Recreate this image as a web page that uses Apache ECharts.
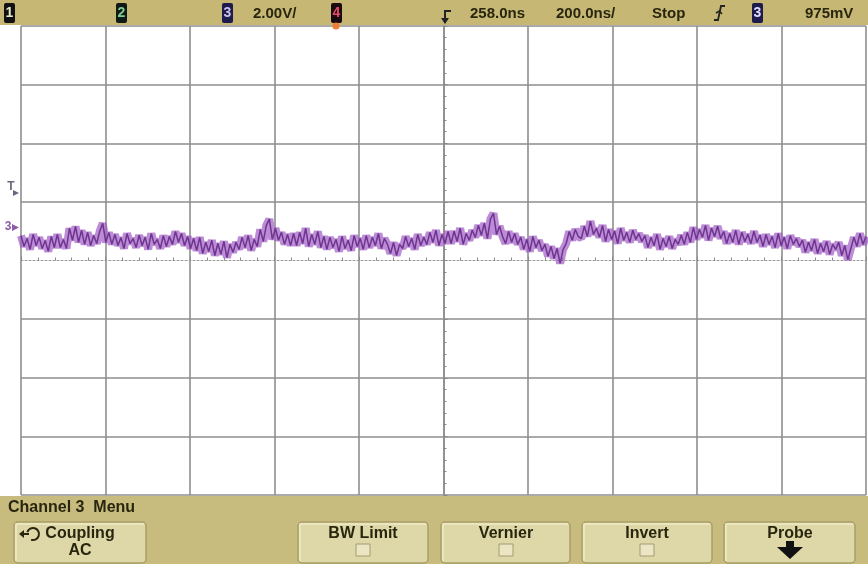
<!DOCTYPE html>
<html>
<head>
<meta charset="utf-8">
<script src="https://cdn.jsdelivr.net/npm/echarts@6/dist/echarts.min.js"></script>
<style>
html,body{margin:0;padding:0;background:#fff;}
#c{width:868px;height:564px;}
</style>
</head>
<body>
<div id="c"></div>
<script>
// Oscilloscope settings
var voltsPerDiv = 2.00;      // V/div
var timePerDiv = 200;        // ns/div
var xRange = [-1000, 1000];  // ns relative to screen centre (10 div)
var yRange = [-8, 8];        // V relative to screen centre (8 div)

// Channel 3 trace, volts relative to screen centre, read left to right
var ch3Volts = [
0.85,0.48,0.75,0.38,0.89,0.51,
0.79,0.41,0.68,0.31,0.82,0.44,0.89,
0.44,0.72,0.41,
1.10,0.69,1.16,0.62,1.03,
0.55,0.96,0.51,0.85,0.58,
1.00,1.27,0.62,0.96,0.55,
0.89,0.51,0.78,0.41,0.92,0.58,0.75,
0.44,0.86,0.51,0.79,0.38,0.92,0.55,0.72,0.41,0.85,0.48,0.82,
0.55,0.99,0.62,0.92,0.51,
0.82,0.41,0.75,0.34,0.79,
0.24,0.62,0.31,0.69,0.17,0.58,0.21,0.65,0.10,0.55,0.28,0.62,
0.38,0.79,0.44,0.85,0.34,0.72,0.48,
1.06,0.65,1.20,1.41,0.72,1.10,0.69,
0.96,0.55,0.89,0.51,0.92,
0.51,0.96,0.58,1.10,0.48,0.89,0.55,0.99,0.44,0.82,
0.38,0.79,0.44,0.72,0.31,0.82,0.41,0.69,0.34,0.85,0.48,0.75,0.38,
0.85,0.44,0.79,0.51,0.92,0.41,0.75,0.55,
0.24,0.62,0.17,0.55,
0.41,0.82,0.48,0.75,0.38,0.89,0.51,0.79,
0.55,0.96,0.62,1.03,0.51,0.89,0.58,0.99,
0.58,1.00,0.65,1.10,0.55,0.92,0.69,1.03,
0.79,1.20,0.86,1.27,0.75,1.41,1.61,0.89,1.17,0.82,
0.58,0.99,0.62,0.92,0.55,
0.79,0.38,0.72,0.31,0.82,0.44,0.69,0.34,
0.55,0.14,0.48,0.07,0.41,-0.10,0.38,
0.58,0.99,0.69,1.06,0.82,
0.75,1.17,0.82,1.34,0.89,1.10,0.79,1.20,
0.65,1.06,0.72,1.00,0.58,1.10,0.69,0.96,0.62,1.03,0.72,0.92,0.65,
0.85,0.44,0.79,0.51,0.89,0.38,0.75,0.48,0.82,0.41,0.72,0.55,0.86,
0.55,0.96,0.62,
1.13,0.72,1.06,0.79,1.20,0.69,1.10,0.82,1.17,0.75,
0.99,0.58,0.92,0.62,1.03,0.55,0.96,0.65,0.89,0.58,1.00,0.62,0.86,
0.48,0.89,0.55,0.82,0.44,0.92,0.51,0.79,0.41,0.85,0.55,0.75,0.48,
0.69,0.28,0.62,0.34,0.72,0.24,0.58,0.31,0.65,0.21,0.55,0.38,0.62,0.17,0.51,0.03,0.41,
0.79,0.48,0.92,0.55,0.82
];

// Status bar texts
var statusTexts = ['2.00V/', '258.0ns', '200.0ns/', 'Stop', '975mV'];
var menuTitle = 'Channel 3  Menu';
var buttonLabels = [['Coupling','AC'], ['BW Limit',''], ['Vernier',''], ['Invert',''], ['Probe','']];

// sample clock: samples spread evenly across the screen
var n = ch3Volts.length;
var dt = (xRange[1] - xRange[0]) / (n - 1);
var traceData = ch3Volts.map(function (v, i) { return [xRange[0] + i * dt, v]; });

var chart = echarts.init(document.getElementById('c'), null, {renderer: 'canvas'});

var gridColor = '#8e8e8e';
var font = '"Liberation Sans", Arial, sans-serif';
var ink = '#29260f';

function badge(x, bg, fg, d) {
  return [
    {type: 'rect', shape: {x: x, y: 3, width: 11, height: 20, r: 2}, style: {fill: bg}, z: 101},
    {type: 'text', style: {x: x + 5.5, y: 13.5, text: d, fill: fg, font: 'bold 14px ' + font, textAlign: 'center', textVerticalAlign: 'middle'}, z: 102}
  ];
}
function txt(x, y, s, size, align, weight, color) {
  return {type: 'text', style: {x: x, y: y, text: s, fill: color || ink, font: (weight || 'normal') + ' ' + size + 'px ' + font, textAlign: align || 'left', textVerticalAlign: 'middle'}, z: 102};
}
function button(x, w, lines, cx) {
  var els = [
    {type: 'rect', shape: {x: x, y: 522, width: w, height: 41, r: 4}, style: {fill: '#ded7a7', stroke: '#a89e68', lineWidth: 1.5}, z: 100},
    {type: 'polyline', shape: {points: [[x + 2, 561], [x + 2, 524], [x + w - 2, 524]]}, style: {stroke: '#f1ebc8', lineWidth: 1.5}, z: 101}
  ];
  els.push(txt(cx, 534, lines[0], 16, 'center', 'bold'));
  if (lines[1]) els.push(txt(cx, 551, lines[1], 16, 'center', 'bold'));
  return els;
}
function checkbox(cx) {
  return {type: 'rect', shape: {x: cx - 7, y: 544, width: 14, height: 12}, style: {fill: '#ebe5c4', stroke: '#a59c70', lineWidth: 1}, z: 101};
}

var graphics = [];
// top status bar
graphics.push({type: 'rect', shape: {x: 0, y: 0, width: 868, height: 25}, style: {fill: '#c6b774'}, z: 100});
graphics = graphics.concat(badge(4, '#111', '#e8e6c8', '1'));
graphics = graphics.concat(badge(116, '#101a14', '#7fcf90', '2'));
graphics = graphics.concat(badge(222, '#1d1a4c', '#c9c2f0', '3'));
graphics.push(txt(253, 13.5, statusTexts[0], 15, 'left', 'bold'));
graphics = graphics.concat(badge(331, '#1a0a10', '#e64a6a', '4'));
graphics.push({type: 'circle', shape: {cx: 336, cy: 26, r: 3.5}, style: {fill: '#ef7b35'}, z: 103});
// delay (trigger position) marker
graphics.push({type: 'polyline', shape: {points: [[451, 11], [445, 11], [445, 23]]}, style: {stroke: '#222', lineWidth: 2}, z: 102});
graphics.push({type: 'polygon', shape: {points: [[441, 18], [449, 18], [445, 24]]}, style: {fill: '#222'}, z: 102});
graphics.push(txt(470, 13.5, statusTexts[1], 15, 'left', 'bold'));
graphics.push(txt(556, 13.5, statusTexts[2], 15, 'left', 'bold'));
graphics.push(txt(652, 13.5, statusTexts[3], 15, 'left', 'bold'));
// trigger slope symbol
graphics.push({type: 'polyline', shape: {points: [[714, 20], [718, 20], [721, 6], [725, 6]]}, style: {stroke: '#222', lineWidth: 1.8}, z: 102});
graphics.push({type: 'polyline', shape: {points: [[716, 13], [719.5, 11], [722, 14]]}, style: {stroke: '#222', lineWidth: 1.5}, z: 102});
graphics = graphics.concat(badge(752, '#1d1a4c', '#e0dcff', '3'));
graphics.push(txt(805, 13.5, statusTexts[4], 15, 'left', 'bold'));

// left markers
graphics.push(txt(11, 187, 'T', 12, 'center', 'bold', '#6e6680'));
graphics.push({type: 'polygon', shape: {points: [[13, 190], [19, 193], [13, 196]]}, style: {fill: '#6e6680'}, z: 102});
graphics.push(txt(8, 227, '3', 12, 'center', 'bold', '#8f5aa8'));
graphics.push({type: 'polygon', shape: {points: [[12, 224], [19, 227.5], [12, 231]]}, style: {fill: '#8f5aa8'}, z: 102});

// bottom menu
graphics.push({type: 'rect', shape: {x: 0, y: 496, width: 868, height: 68}, style: {fill: '#c8bb7e'}, z: 99});
graphics.push(txt(8, 508, menuTitle, 16, 'left', 'bold'));
graphics = graphics.concat(button(14, 132, buttonLabels[0], 80));
graphics = graphics.concat(button(298, 130, buttonLabels[1], 363));
graphics = graphics.concat(button(441, 129, buttonLabels[2], 506));
graphics = graphics.concat(button(582, 130, buttonLabels[3], 647));
graphics = graphics.concat(button(724, 131, buttonLabels[4], 790));
graphics.push(checkbox(363));
graphics.push(checkbox(506));
graphics.push(checkbox(647));
// probe arrow
graphics.push({type: 'rect', shape: {x: 786, y: 541, width: 8, height: 7}, style: {fill: '#111'}, z: 102});
graphics.push({type: 'polygon', shape: {points: [[777, 547], [803, 547], [790, 559]]}, style: {fill: '#111'}, z: 102});
// coupling icon (rotating arrow)
graphics.push({type: 'arc', shape: {cx: 33, cy: 534, r: 6, startAngle: -Math.PI * 0.9, endAngle: Math.PI * 0.6}, style: {stroke: ink, lineWidth: 2, fill: null}, z: 102});
graphics.push({type: 'polyline', shape: {points: [[21, 534], [29, 534]]}, style: {stroke: ink, lineWidth: 2}, z: 102});
graphics.push({type: 'polygon', shape: {points: [[19, 534], [24, 530], [24, 538]]}, style: {fill: ink}, z: 102});

var ySplitColors = [];
for (var k = 0; k <= 8; k++) ySplitColors.push(k === 4 ? 'rgba(0,0,0,0)' : gridColor);

var option = {
  backgroundColor: '#ffffff',
  animation: false,
  grid: {left: 21, right: 2, top: 26, bottom: 69, containLabel: false},
  xAxis: {
    type: 'value', min: xRange[0], max: xRange[1], interval: timePerDiv,
    axisLabel: {show: false},
    axisLine: {show: true, onZero: true, lineStyle: {color: '#9a9a9a', width: 1, type: [2, 2]}},
    axisTick: {show: true, inside: true, length: 4, lineStyle: {color: '#888'}},
    minorTick: {show: true, splitNumber: 5, length: 3, lineStyle: {color: '#888'}},
    splitLine: {show: true, lineStyle: {color: gridColor, width: 1.6}}
  },
  yAxis: {
    type: 'value', min: yRange[0], max: yRange[1], interval: voltsPerDiv,
    axisLabel: {show: false},
    axisLine: {show: true, onZero: true, lineStyle: {color: gridColor, width: 1.6}},
    axisTick: {show: true, inside: true, length: 4, lineStyle: {color: '#888'}},
    minorTick: {show: true, splitNumber: 5, length: 3, lineStyle: {color: '#888'}},
    splitLine: {show: true, lineStyle: {color: ySplitColors, width: 1.6}}
  },
  series: [
    {
      type: 'line', data: traceData, showSymbol: false, silent: true,
      lineStyle: {color: 'rgba(160,92,196,0.7)', width: 8}, z: 3
    },
    {
      type: 'line', data: traceData, showSymbol: false, silent: true,
      lineStyle: {color: '#6e348f', width: 1.5}, z: 4
    }
  ],
  graphic: graphics
};
chart.setOption(option);
</script>
</body>
</html>
